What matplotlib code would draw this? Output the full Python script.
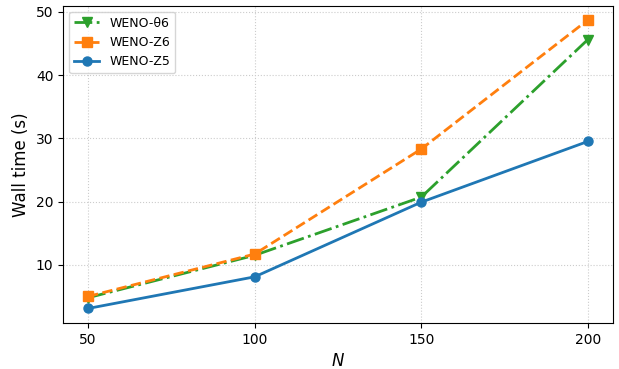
import matplotlib
matplotlib.use("Agg")
import matplotlib.pyplot as plt

n_values = [50, 100, 150, 200]
weno_theta6 = [4.8, 11.5, 20.7, 45.6]
weno_z6 = [5.0, 11.7, 28.3, 48.7]
weno_z5 = [3.1, 8.1, 19.9, 29.5]

fig, ax = plt.subplots(figsize=(6.19, 3.69), dpi=100)

ax.plot(n_values, weno_theta6, color="tab:green", linestyle="-.", marker="v",
        linewidth=2, markersize=6.5, label="WENO-θ6")
ax.plot(n_values, weno_z6, color="tab:orange", linestyle="--", marker="s",
        linewidth=2, markersize=6.5, label="WENO-Z6")
ax.plot(n_values, weno_z5, color="tab:blue", linestyle="-", marker="o",
        linewidth=2, markersize=6.5, label="WENO-Z5")

ax.set_xticks(n_values)
ax.set_xlabel("$N$", fontsize=12)
ax.set_ylabel("Wall time (s)", fontsize=12)
ax.grid(True, linestyle=":", color="#cccccc")
ax.legend(loc="upper left", fontsize=9)

fig.subplots_adjust(left=0.102, right=0.99, top=0.985, bottom=0.125)
fig.savefig("out.png", dpi=100)
